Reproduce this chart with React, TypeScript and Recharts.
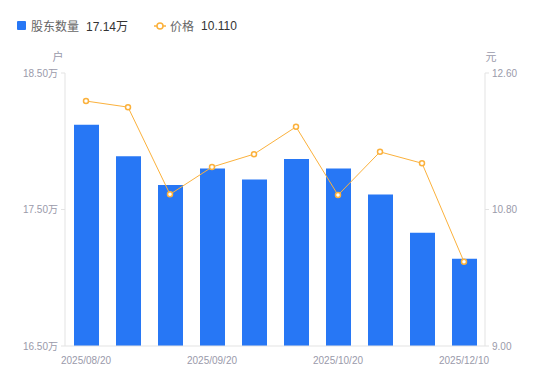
import { ComposedChart, Bar, Line, XAxis, YAxis } from 'recharts'

const dates = [
  '2025/08/20', '2025/08/31', '2025/09/10', '2025/09/20', '2025/09/30',
  '2025/10/10', '2025/10/20', '2025/10/31', '2025/11/20', '2025/12/10',
]
const holders = [18.12, 17.89, 17.68, 17.8, 17.72, 17.87, 17.8, 17.61, 17.33, 17.14]
const prices = [12.23, 12.15, 11.0, 11.36, 11.53, 11.89, 10.99, 11.56, 11.41, 10.11]

const leftTicks = [16.5, 17.5, 18.5]
const rightTicks = [9, 10.8, 12.6]

const BLUE = '#2777f5'
const ORANGE = '#fbb13c'
const FONT = "'Liberation Sans', 'Noto Sans CJK SC', sans-serif"

const data = dates.map((d, i) => ({ date: d, holders: holders[i], price: prices[i] }))

function LegendBox() {
  return (
    <div style={{ position: 'absolute', top: 17, left: 17, display: 'flex', alignItems: 'center', fontSize: 12, fontFamily: FONT }}>
      <span style={{ width: 9, height: 9, background: BLUE, borderRadius: 1, marginRight: 5 }} />
      <span style={{ color: '#666' }}>股东数量</span>
      <span style={{ color: '#333', marginLeft: 7 }}>{holders[holders.length - 1].toFixed(2)}万</span>
      <svg width={12} height={10} style={{ marginLeft: 26, marginRight: 4 }}>
        <line x1={0} y1={5} x2={12} y2={5} stroke={ORANGE} strokeWidth={1.5} />
        <circle cx={6} cy={5} r={3} fill="#fff" stroke={ORANGE} strokeWidth={1.5} />
      </svg>
      <span style={{ color: '#666' }}>价格</span>
      <span style={{ color: '#333', marginLeft: 7 }}>{prices[prices.length - 1].toFixed(3)}</span>
    </div>
  )
}

export default function App() {
  const tick = { fill: '#9a9aaa', fontSize: 10, fontFamily: FONT }
  return (
    <div style={{ position: 'absolute', left: 0, top: 0, width: 550, height: 381 }}>
      <ComposedChart width={550} height={381} data={data} margin={{ top: 73, right: 0, bottom: 0, left: 0 }}>
        <XAxis dataKey="date" interval={2} tickLine={false} axisLine={{ stroke: '#e3e3e3' }}
          tick={tick} tickMargin={5} height={35} />
        <YAxis yAxisId="l" domain={[16.5, 18.5]} ticks={leftTicks} width={65}
          tickFormatter={(v: number) => v.toFixed(2) + '万'} tick={tick}
          axisLine={{ stroke: '#e3e3e3' }} tickLine={{ stroke: '#e3e3e3' }} tickSize={4} tickMargin={3}
          label={({ viewBox }: any) => (
            <text x={viewBox.x + viewBox.width - 7} y={viewBox.y - 12} textAnchor="middle"
              fill="#9a9aaa" fontSize={11} fontFamily={FONT}>户</text>
          )} />
        <YAxis yAxisId="r" orientation="right" domain={[9, 12.6]} ticks={rightTicks} width={65}
          tickFormatter={(v: number) => v.toFixed(2)} tick={tick}
          axisLine={{ stroke: '#e3e3e3' }} tickLine={{ stroke: '#e3e3e3' }} tickSize={4} tickMargin={3}
          label={({ viewBox }: any) => (
            <text x={viewBox.x + 6} y={viewBox.y - 12} textAnchor="middle"
              fill="#9a9aaa" fontSize={11} fontFamily={FONT}>元</text>
          )} />
        <Bar yAxisId="l" dataKey="holders" fill={BLUE} barSize={25} isAnimationActive={false} />
        <Line yAxisId="r" dataKey="price" stroke={ORANGE} strokeWidth={1} type="linear"
          dot={{ r: 2.5, fill: '#fff', stroke: ORANGE, strokeWidth: 1.5 }} activeDot={false}
          isAnimationActive={false} />
      </ComposedChart>
      <LegendBox />
    </div>
  )
}
